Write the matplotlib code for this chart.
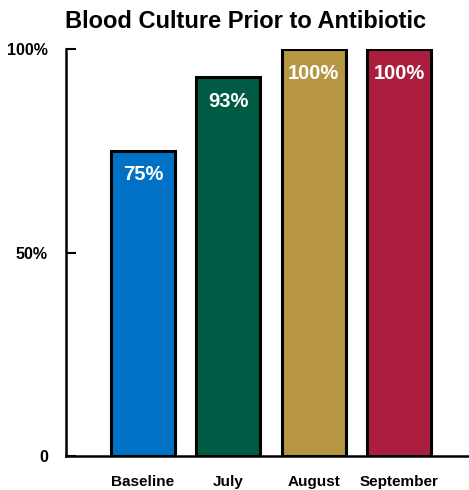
import matplotlib.pyplot as plt

months = ['Baseline', 'July', 'August', 'September']
rates = [75, 93, 100, 100]
bar_colors = ['#0071C5', '#005B44', '#B69642', '#AB1E3E']

plt.rcParams['font.family'] = ['Liberation Sans', 'DejaVu Sans']
plt.rcParams['font.weight'] = 'bold'

fig = plt.figure(figsize=(4.69, 4.90), dpi=100)
ax = fig.add_axes([66 / 469, 34 / 490, 403 / 469, 407 / 490])

x = range(len(months))
bars = ax.bar(x, rates, width=0.75, color=bar_colors, edgecolor='black', linewidth=2.2)

# value labels, white, just under the top of each bar
for b, v in zip(bars, rates):
    ax.text(b.get_x() + b.get_width() / 2, v - 5.9, f'{v}%', ha='center', va='center',
            color='white', fontsize=14.5, fontweight='bold')

ax.set_xlim(-0.9, 3.82)
ax.set_ylim(0, 100)
ax.set_yticks([0, 50, 100])
ax.set_yticklabels(['0', '50%', '100%'], fontsize=11.5, fontweight='bold')
ax.set_xticks(list(x))
ax.set_xticklabels(months, fontsize=11, fontweight='bold')
ax.tick_params(axis='y', direction='in', length=7, width=1.5, pad=13)
ax.tick_params(axis='x', length=0, pad=13.5)

for side in ['top', 'right']:
    ax.spines[side].set_visible(False)
for side in ['left', 'bottom']:
    ax.spines[side].set_linewidth(1.8)

fig.text(0.523, 0.957, 'Blood Culture Prior to Antibiotic', ha='center', va='center',
         fontsize=17, fontweight='bold')

fig.savefig('out.png', dpi=100)
